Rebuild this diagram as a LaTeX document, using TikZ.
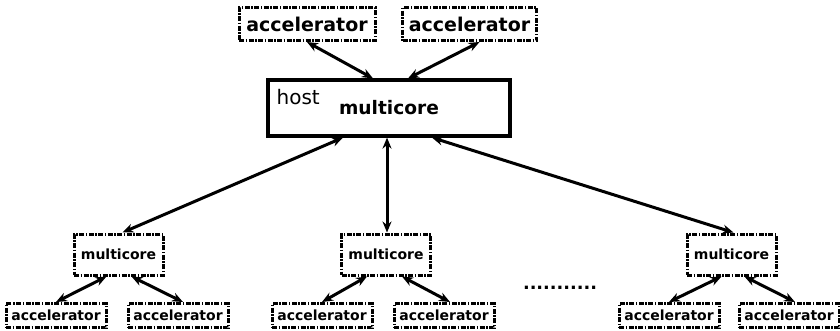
\documentclass[tikz,border=0pt]{standalone}
\usepackage{fontspec}
\setmainfont{DejaVu Sans}
\usetikzlibrary{arrows.meta,positioning,calc}

\begin{document}
\begin{tikzpicture}[x=1pt, y=-1pt,
  dashbox/.style={draw, line width=3pt, dash pattern=on 5pt off 1.5pt on 1.5pt off 1.5pt, inner sep=0pt},
  link/.style={line width=3pt, {Stealth[length=11pt,width=9pt]}-{Stealth[length=11pt,width=9pt]}}]
  \useasboundingbox (0,0) rectangle (840,330);

  % Host
  \node[draw, line width=3.2pt, minimum width=242pt, minimum height=56pt, font=\fontsize{18.6}{20}\selectfont\bfseries] (host) at (389,108) {multicore};
  \node[anchor=base west, inner sep=0pt, font=\fontsize{20}{22}\selectfont] (hostlbl) at ($(host.north west)+(10,26)$) {host};

  % Accelerators of the host
  \node[dashbox, minimum width=136pt, minimum height=33pt, font=\fontsize{19}{21}\selectfont\bfseries] (hostaccA) at (307,24) {accelerator};
  \node[dashbox, minimum width=134pt, minimum height=33pt, font=\fontsize{19}{21}\selectfont\bfseries] (hostaccB) at (469.5,24) {accelerator};
  \draw[link] (hostaccA.south) -- ($(host.north)+(-16,0)$);
  \draw[link] ($(hostaccB.south)+(10,0)$) -- ($(host.north)+(19,0)$);

  % Multicore nodes
  \node[dashbox, minimum width=89pt, minimum height=41pt, font=\fontsize{14}{16}\selectfont\bfseries] (mcA) at (118.5,254.5) {multicore};
  \node[dashbox, minimum width=89pt, minimum height=41pt, font=\fontsize{14}{16}\selectfont\bfseries] (mcB) at (386,254.5) {multicore};
  \node[dashbox, minimum width=89pt, minimum height=41pt, font=\fontsize{14}{16}\selectfont\bfseries] (mcC) at (731.5,254.5) {multicore};
  \draw[link] ($(host.south)+(-46,0)$) -- ($(mcA.north)+(4,0)$);
  \draw[link] ($(host.south)+(-2,0)$) -- ($(mcB.north)+(1,0)$);
  \draw[link] ($(host.south)+(43,0)$) -- ($(mcC.north)+(2,0)$);

  % Accelerators of the multicore nodes
  \foreach \n/\x in {accA1/56, accA2/178, accB1/322, accB2/444, accC1/669, accC2/789} {
    \node[dashbox, minimum width=100pt, minimum height=24pt, font=\fontsize{14}{16}\selectfont\bfseries] (\n) at (\x,315.5) {accelerator};
  }
  \draw[link] ($(mcA.south)+(-12,0)$) -- (accA1.north);
  \draw[link] ($(mcA.south)+(13,0)$) -- ($(accA2.north)+(5,0)$);
  \draw[link] ($(mcB.south)+(-19,0)$) -- (accB1.north);
  \draw[link] ($(mcB.south)+(16,0)$) -- ($(accB2.north)+(6,0)$);
  \draw[link] ($(mcC.south)+(-10,0)$) -- (accC1.north);
  \draw[link] ($(mcC.south)+(13,0)$) -- ($(accC2.north)+(6,0)$);

  % more nodes
  \node[font=\fontsize{17.7}{20}\selectfont\bfseries, inner sep=0pt] (more) at (560,288) {...........};
\end{tikzpicture}
\end{document}
